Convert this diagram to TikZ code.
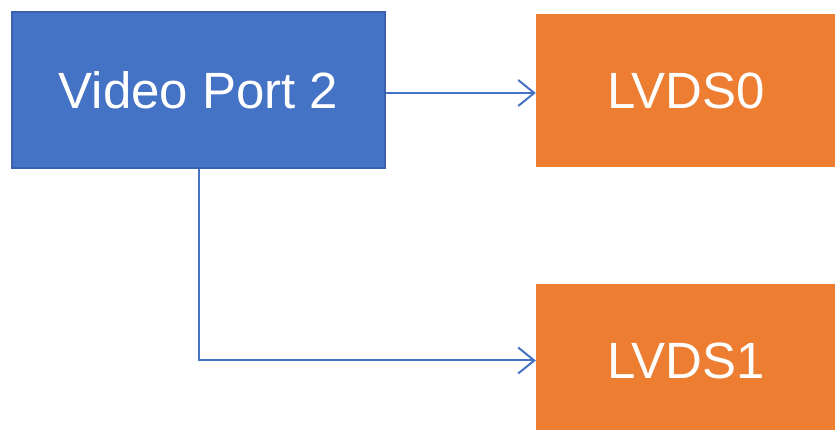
\documentclass[tikz,border=0pt]{standalone}
\usepackage{fontspec}
\setmainfont{Liberation Sans}
\usetikzlibrary{arrows.meta,positioning}
\definecolor{portblue}{HTML}{4472C4}
\definecolor{portedge}{HTML}{3A62AC}
\definecolor{lvdsorange}{HTML}{ED7D31}
\tikzset{
  portbox/.style={draw=portedge, line width=1.5pt, fill=portblue, text=white,
    minimum width=373pt, minimum height=156pt, inner sep=0pt,
    font=\fontsize{51}{60}\selectfont},
  lvdsbox/.style={fill=lvdsorange, text=white,
    minimum width=300pt, minimum height=153pt, inner sep=0pt,
    font=\fontsize{51}{60}\selectfont},
  link/.style={draw=portblue, line width=2pt,
    -{Straight Barb[length=16pt, width=26pt, line width=2pt]}}
}
\begin{document}
\begin{tikzpicture}[x=1pt, y=1pt]
    \useasboundingbox (0,0) rectangle (835,430);
    \clip (0,0) rectangle (835,430);
    \node[portbox] (vp2) at (198.5,340) {Video Port 2};
    \node[lvdsbox] (lvds0) at (686,339.5) {LVDS0};
    \node[lvdsbox] (lvds1) at (686,69.5) {LVDS1};
    \draw[link] ([yshift=-3pt]vp2.east) -- ([yshift=-3pt]vp2.east -| lvds0.west);
    \draw[link] (vp2.south) |- (lvds1.west);
\end{tikzpicture}
\end{document}
